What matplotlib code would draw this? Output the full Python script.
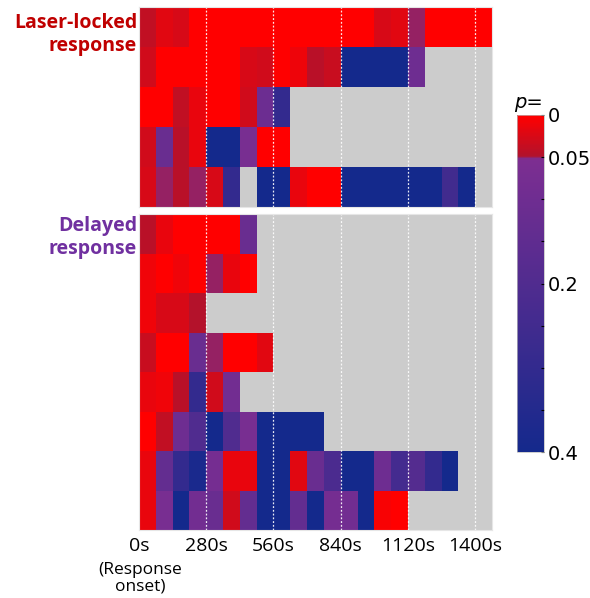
import numpy as np
import matplotlib
matplotlib.use("Agg")
import matplotlib.pyplot as plt
from matplotlib.colors import LinearSegmentedColormap, Normalize
from matplotlib.cm import ScalarMappable

nan = np.nan

# time bins (s), 70 s each, 21 bins
bin_edges = np.arange(0, 1471, 70)
tick_times = [0, 280, 560, 840, 1120, 1400]
tick_labels = ["0s", "280s", "560s", "840s", "1120s", "1400s"]

# p-values per cell, rows top to bottom (nan = no data)
laser_locked = [
    [0.04, 0.02, 0.025, 0, 0, 0, 0, 0, 0, 0, 0, 0, 0, 0, 0.025, 0.02, 0.05, 0, 0, 0, 0],
    [0.03, 0, 0, 0, 0, 0, 0.025, 0.03, 0, 0.012, 0.045, 0.035, 0.4, 0.4, 0.4, 0.4, 0.1, nan, nan, nan, nan],
    [0, 0, 0.04, 0.015, 0, 0, 0.03, 0.11, 0.3, nan, nan, nan, nan, nan, nan, nan, nan, nan, nan, nan, nan],
    [0.03, 0.12, 0.045, 0.015, 0.4, 0.4, 0.07, 0, 0, nan, nan, nan, nan, nan, nan, nan, nan, nan, nan, nan, nan],
    [0.025, 0.05, 0.045, 0.05, 0.025, 0.3, nan, 0.4, 0.4, 0.015, 0, 0, 0.4, 0.4, 0.4, 0.4, 0.4, 0.4, 0.25, 0.4, nan],
]

delayed = [
    [0.045, 0.015, 0, 0, 0, 0, 0.12, nan, nan, nan, nan, nan, nan, nan, nan, nan, nan, nan, nan, nan, nan],
    [0.01, 0, 0.01, 0, 0.05, 0.015, 0, nan, nan, nan, nan, nan, nan, nan, nan, nan, nan, nan, nan, nan, nan],
    [0.01, 0.025, 0.025, 0.047, nan, nan, nan, nan, nan, nan, nan, nan, nan, nan, nan, nan, nan, nan, nan, nan, nan],
    [0.035, 0, 0, 0.12, 0.05, 0, 0, 0.02, nan, nan, nan, nan, nan, nan, nan, nan, nan, nan, nan, nan, nan],
    [0.015, 0.01, 0.045, 0.3, 0.03, 0.09, nan, nan, nan, nan, nan, nan, nan, nan, nan, nan, nan, nan, nan, nan, nan],
    [0, 0.04, 0.1, 0.2, 0.4, 0.2, 0.07, 0.4, 0.4, 0.4, 0.4, nan, nan, nan, nan, nan, nan, nan, nan, nan, nan],
    [0.015, 0.14, 0.3, 0.38, 0.08, 0.015, 0.015, 0.4, 0.4, 0.02, 0.12, 0.22, 0.4, 0.4, 0.1, 0.24, 0.19, 0.3, 0.4, nan, nan],
    [0.015, 0.07, 0.4, 0.09, 0.12, 0.03, 0.14, 0.4, 0.4, 0.14, 0.4, 0.08, 0.09, 0.4, 0.005, 0, nan, nan, nan, nan, nan],
]

cbar_ticks = [0, 0.05, 0.2, 0.4]
cbar_minor = [0.1, 0.15, 0.25, 0.3, 0.35]

# red for p<0.05, purple->navy above
cmap = LinearSegmentedColormap.from_list("pmap", [
    (0.0, (1.0, 0.0, 0.0)),
    (0.12, (0.70, 0.07, 0.17)),
    (0.13, (0.49, 0.18, 0.57)),
    (1.0, (0.08, 0.16, 0.55)),
])
norm = Normalize(0, 0.4)

fig = plt.figure(figsize=(5.9, 5.98), dpi=100)
ax_top = fig.add_axes([0.2356, 0.6538, 0.5983, 0.3344])
ax_bot = fig.add_axes([0.2356, 0.1137, 0.5983, 0.5284])

for ax, data in [(ax_top, laser_locked), (ax_bot, delayed)]:
    arr = np.ma.masked_invalid(np.array(data, dtype=float))
    rows = np.arange(len(data) + 1)
    ax.set_facecolor("#cccccc")
    ax.pcolormesh(bin_edges, rows, arr, cmap=cmap, norm=norm)
    ax.set_xlim(0, 1470)
    ax.set_ylim(len(data), 0)
    for t in tick_times[1:]:
        ax.axvline(t, color="white", linestyle=(0, (1.5, 1.5)), linewidth=0.9, alpha=0.9)
    ax.set_yticks([])
    for s in ax.spines.values():
        s.set_color("#e6e6e6")
        s.set_linewidth(0.8)
    ax.tick_params(length=0)

ax_top.set_xticks([])
ax_bot.set_xticks(tick_times)
ax_bot.set_xticklabels(tick_labels, fontsize=14, family="Open Sans")
ax_bot.tick_params(axis="x", pad=5)

fig.text(140 / 590, 1 - 578 / 598, "(Response\nonset)", ha="center", va="center",
         fontsize=12.5, family="Open Sans", linespacing=1.05)

fig.text(137 / 590, 1 - 34 / 598, "Laser-locked\nresponse", ha="right", va="center",
         fontsize=14, fontweight="bold", color="#c00000", family="Open Sans", linespacing=1.2)
fig.text(137 / 590, 1 - 237 / 598, "Delayed\nresponse", ha="right", va="center",
         fontsize=14, fontweight="bold", color="#7030a0", family="Open Sans", linespacing=1.2)

cax = fig.add_axes([517 / 590, 1 - 452 / 598, 27 / 590, 337 / 598])
sm = ScalarMappable(norm=norm, cmap=cmap)
cb = fig.colorbar(sm, cax=cax)
cb.set_ticks(cbar_ticks)
cb.set_ticklabels(["0", "0.05", "0.2", "0.4"])
cax.set_yticks(cbar_minor, minor=True)
cax.invert_yaxis()
cax.tick_params(which="both", direction="in", length=2, width=0.8, labelsize=14, pad=3)
cb.outline.set_edgecolor("#bbbbbb")
cb.outline.set_linewidth(0.5)
fig.text(528 / 590, 1 - 102 / 598, "p=", ha="center", va="center", fontsize=14, style="italic")

fig.savefig("out.png", dpi=100)
